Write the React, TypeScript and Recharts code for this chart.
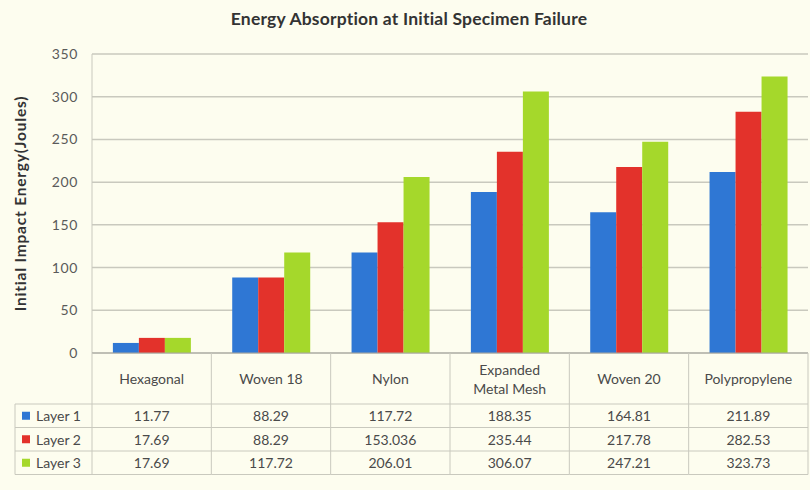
import { Bar, BarChart, CartesianGrid, XAxis, YAxis } from 'recharts'

const categories = ['Hexagonal', 'Woven 18', 'Nylon', 'Expanded Metal Mesh', 'Woven 20', 'Polypropylene']
const layer1 = [11.77, 88.29, 117.72, 188.35, 164.81, 211.89]
const layer2 = [17.69, 88.29, 153.036, 235.44, 217.78, 282.53]
const layer3 = [17.69, 117.72, 206.01, 306.07, 247.21, 323.73]
const seriesNames = ['Layer 1', 'Layer 2', 'Layer 3']
const yTicks = [0, 50, 100, 150, 200, 250, 300, 350]

const COLORS = ['#2f77d4', '#e3322b', '#a5d82b']
const BG = '#fdfdef'
const GRID = '#c9c9be'
const TEXT = '#4a4a4a'
const FONT = 'Lato, "Open Sans", sans-serif'

const W = 810
const H = 490
const PLOT_LEFT = 92
const PLOT_RIGHT = 808
const PLOT_BOTTOM = 353
const BAND = (PLOT_RIGHT - PLOT_LEFT) / categories.length
const ROW_TOP = 404
const ROW_H = 23.5
const LEGEND_LEFT = 15

const rows = [layer1, layer2, layer3]
const data = categories.map((name, i) => ({
  name,
  l1: layer1[i],
  l2: layer2[i],
  l3: layer3[i],
}))

// x-axis tick doubles as one column of the data table under the plot
function TableTick(props: any) {
  const { x, payload } = props
  const i = payload.index as number
  const left = x - BAND / 2
  const right = x + BAND / 2
  const bottom = ROW_TOP + ROW_H * 3
  const label = String(payload.value)
  const lines = label === 'Expanded Metal Mesh' ? ['Expanded', 'Metal Mesh'] : [label]
  const catMid = (PLOT_BOTTOM + ROW_TOP) / 2

  return (
    <g fontFamily={FONT} fontSize={14} fill={TEXT}>
      <line x1={right} x2={right} y1={PLOT_BOTTOM} y2={bottom} stroke={GRID} />
      {[0, 1, 2, 3].map((r) => (
        <line
          key={r}
          x1={left}
          x2={right}
          y1={ROW_TOP + r * ROW_H}
          y2={ROW_TOP + r * ROW_H}
          stroke={GRID}
        />
      ))}
      {lines.map((t, k) => (
        <text
          key={t}
          x={x}
          y={catMid + (k - (lines.length - 1) / 2) * 19}
          textAnchor='middle'
          dominantBaseline='central'
        >
          {t}
        </text>
      ))}
      {rows.map((vals, r) => (
        <text
          key={r}
          x={x}
          y={ROW_TOP + r * ROW_H + ROW_H / 2}
          textAnchor='middle'
          dominantBaseline='central'
        >
          {String(vals[i])}
        </text>
      ))}
      {i === 0 && (
        <g>
          <line x1={left} x2={left} y1={PLOT_BOTTOM} y2={bottom} stroke={GRID} />
          <line x1={LEGEND_LEFT} x2={LEGEND_LEFT} y1={ROW_TOP} y2={bottom} stroke={GRID} />
          {[0, 1, 2, 3].map((r) => (
            <line
              key={r}
              x1={LEGEND_LEFT}
              x2={left}
              y1={ROW_TOP + r * ROW_H}
              y2={ROW_TOP + r * ROW_H}
              stroke={GRID}
            />
          ))}
          {seriesNames.map((s, r) => (
            <g key={s}>
              <rect
                x={LEGEND_LEFT + 7}
                y={ROW_TOP + r * ROW_H + ROW_H / 2 - 4}
                width={8}
                height={8}
                fill={COLORS[r]}
              />
              <text
                x={LEGEND_LEFT + 21}
                y={ROW_TOP + r * ROW_H + ROW_H / 2}
                dominantBaseline='central'
              >
                {s}
              </text>
            </g>
          ))}
        </g>
      )}
    </g>
  )
}

export default function App() {
  return (
    <div
      style={{
        position: 'absolute',
        left: 0,
        top: 0,
        width: W,
        height: H,
        background: BG,
        fontFamily: FONT,
      }}
    >
      <div
        style={{
          position: 'absolute',
          top: 8,
          left: 0,
          width: W + 8,
          textAlign: 'center',
          fontSize: 17.5,
          fontWeight: 700,
          color: '#333',
          letterSpacing: 0.2,
        }}
      >
        Energy Absorption at Initial Specimen Failure
      </div>
      <BarChart
        width={W}
        height={H}
        data={data}
        margin={{ top: 54, right: W - PLOT_RIGHT, bottom: 16, left: 40 }}
        barCategoryGap='17.5%'
        barGap={0}
      >
        <CartesianGrid vertical={false} stroke={GRID} strokeWidth={1.5} />
        <YAxis
          width={52}
          domain={[0, 350]}
          ticks={yTicks}
          tickLine={false}
          tickMargin={8}
          axisLine={{ stroke: GRID }}
          tick={{ fontSize: 14, fill: '#5a5a5a', fontFamily: FONT, letterSpacing: 0.6 }}
          label={{
            value: 'Initial Impact Energy(Joules)',
            angle: -90,
            position: 'insideLeft',
            offset: -20,
            dy: 0,
            style: {
              fontSize: 15.5,
              fontWeight: 700,
              fill: '#333',
              fontFamily: FONT,
              textAnchor: 'middle',
              letterSpacing: 0.8,
            },
          }}
        />
        <XAxis
          dataKey='name'
          height={121}
          interval={0}
          tickLine={false}
          axisLine={{ stroke: '#a8a8a0' }}
          tick={<TableTick />}
        />
        <Bar dataKey='l1' name={seriesNames[0]} fill={COLORS[0]} isAnimationActive={false} />
        <Bar dataKey='l2' name={seriesNames[1]} fill={COLORS[1]} isAnimationActive={false} />
        <Bar dataKey='l3' name={seriesNames[2]} fill={COLORS[2]} isAnimationActive={false} />
      </BarChart>
    </div>
  )
}
